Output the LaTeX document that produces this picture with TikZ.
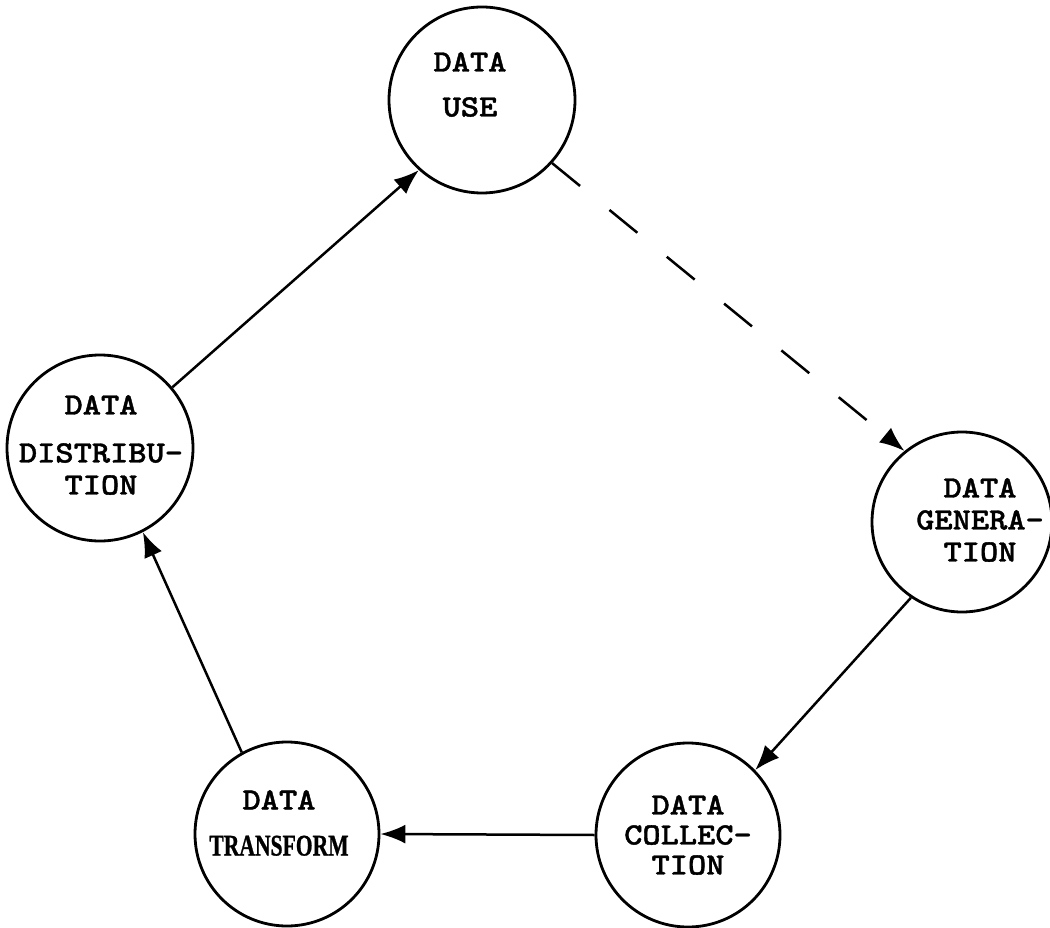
\documentclass[tikz,border=0pt]{standalone}
\usepackage{fontspec}
\usepackage{graphicx}
\newfontfamily\tw{lmmono10-regular.otf}[FakeStretch=1.12,FakeBold=1.2,BoldFont=lmmonolt10-bold.otf]
\newfontfamily\sr{Liberation Serif}[FakeBold=1]
\usetikzlibrary{arrows.meta}
\begin{document}
\begin{tikzpicture}[x=1pt,y=-1pt,
  proc/.style={circle,draw,line width=2.8pt,inner sep=0pt,minimum size=#1},
  lbl/.style={align=center,inner sep=0pt,font=\tw\bfseries\fontsize{31}{#1}\selectfont},
  flow/.style={line width=2.5pt,-{Latex[length=25pt,width=19pt]}}]
\path[fill=white,use as bounding box] (0,0) rectangle (1050,928);
% circles
\node[proc=186pt] (use)   at (482,100) {};
\node[proc=186pt] (dist)  at (100,448) {};
\node[proc=180pt] (gen)   at (962,522) {};
\node[proc=184pt] (coll)  at (688,835) {};
\node[proc=184pt] (trans) at (287,834) {};
% labels
\node[lbl=45pt] (useT)   at (470,84.5) {DATA\\USE};
\node[lbl=32pt] (distT)  at (101,445)  {DATA\\[16pt]DISTRIBU-\\TION};
\node[lbl=32pt] (genT)   at (980,520)  {DATA\\GENERA-\\TION};
\node[lbl=30pt] (collT)  at (688,835)  {DATA\\COLLEC-\\TION};
\node[lbl=46pt] (transT) at (279,823)  {DATA\\{\sr\bfseries\fontsize{30}{30}\selectfont\scalebox{0.72}[1]{TRANSFORM}}};
% connectors
\draw[flow] (dist.40.3) -- (use.228.5);
\draw[flow,dash pattern=on 36pt off 38pt] (use.-42) -- (gen.129.3);
\draw[flow] (gen.236.3) -- (coll.44);
\draw[flow] (coll.180) -- (trans.0);
\draw[flow] (trans.119.3) -- (dist.-63.2);
\end{tikzpicture}
\end{document}
